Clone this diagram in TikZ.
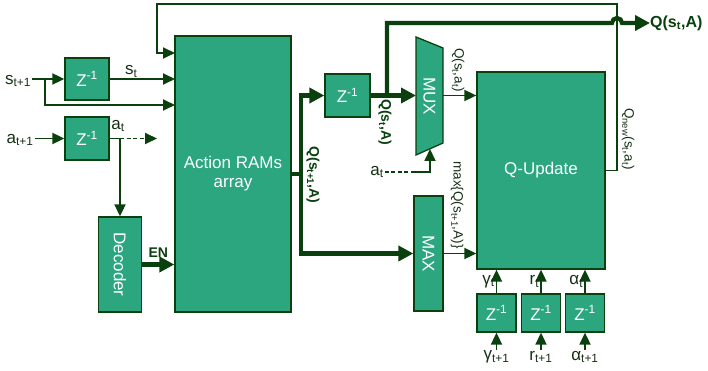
\documentclass[tikz,border=0pt]{standalone}
\usepackage{fontspec}
\setmainfont{Liberation Sans}
\usepackage{graphicx}
\usetikzlibrary{arrows.meta,positioning}
\definecolor{QGreen}{RGB}{43,166,126}
\definecolor{QDark}{RGB}{10,64,14}
\definecolor{QText}{RGB}{22,48,22}
\newcommand{\zinv}{Z\textsuperscript{-1}}
\newcommand{\sub}[1]{\textsubscript{#1}}

\begin{document}
\begin{tikzpicture}[x=1pt, y=-1pt,
    font=\fontsize{17}{19}\selectfont,
    blk/.style={draw=QDark, fill=QGreen, text=white, line width=1.3pt,
                inner sep=0pt, font=\fontsize{17}{19}\selectfont},
    dly/.style={blk, minimum width=44pt, minimum height=42pt},
    sdly/.style={blk, minimum width=39pt, minimum height=38pt},
    arr/.style={-{Triangle[length=12pt,width=11pt]}, line width=1.8pt, QDark},
    bus/.style={-{Triangle[length=15pt,width=15pt]}, line width=4.2pt, QDark},
    wire/.style={line width=1.8pt, QDark},
    lbl/.style={text=QText, inner sep=1pt},
    tag/.style={font=\fontsize{13.5}{15}\selectfont, text=QText, rotate=-90, inner sep=0pt},
    btag/.style={font=\fontsize{14}{16}\selectfont\bfseries, text=QDark, inner sep=0pt}
  ]
  \useasboundingbox (0,0) rectangle (708,371);

  % blocks
  \node[blk, minimum width=116pt, minimum height=276pt, align=center] (ram) at (233,174)
       {Action RAMs\\array};
  \node[dly] (zs) at (87,79) {\zinv};
  \node[dly, minimum height=43pt] (za) at (87,138.5) {\zinv};
  \node[blk, minimum width=43pt, minimum height=95pt] (dec) at (120,264.5) {\rotatebox{-90}{Decoder}};
  \node[dly, minimum width=45pt, minimum height=43pt] (zq) at (347.5,95.5) {\zinv};
  \node[blk, minimum width=29pt, minimum height=115pt] (maxu) at (428.5,253.5) {\rotatebox{-90}{MAX}};
  \node[blk, minimum width=128pt, minimum height=197pt] (qup) at (541,170.5) {Q-Update};
  \node[sdly] (zg) at (496.5,313) {\zinv};
  \node[sdly] (zr) at (541,313) {\zinv};
  \node[sdly] (zal) at (585,313) {\zinv};

  % multiplexer
  \draw[blk] (416,37) -- (443,48) -- (443,143) -- (416,155) -- cycle;
  \node[rotate=-90, text=white, font=\fontsize{17}{19}\selectfont] (mux) at (429.5,96) {MUX};
  \coordinate (muxin) at (416,95.5);
  \coordinate (muxout) at (443,95.5);
  \coordinate (muxsel) at (430,149);

  % ports on the RAM array
  \coordinate (ramA) at (175,53);
  \coordinate (ramB) at (175,79);
  \coordinate (ramC) at (175,105);

  % state input
  \node[lbl] (sin) at (18,81) {s\sub{t+1}};
  \coordinate (sfork) at (45,79);
  \draw[arr] (sin.east |- zs.west) -- (zs.west);
  \draw[arr] (sfork) |- (ramC);
  \draw[arr] (zs.east) -- node[lbl, above, pos=0.33] {s\sub{t}} (ramB);

  % action input
  \node[lbl] (ain) at (20,140) {a\sub{t+1}};
  \coordinate (afork) at (120,138.5);
  \coordinate (aout) at (157,138.5);
  \draw[arr] (ain.east |- za.west) -- (za.west);
  \draw[wire] (za.east) -- (afork);
  \node[lbl] at (118,126) {a\sub{t}};
  \draw[arr, dash pattern=on 4pt off 2.5pt] (afork) -- (aout);
  \draw[arr] (afork) -- (dec.north);
  \draw[bus] (dec.east) -- node[btag, above=5pt] {EN} (dec.east -| ram.west);

  % feedback of the new value
  \coordinate (fbR) at (617,4);
  \coordinate (fbL) at (157,4);
  \draw[arr] (qup.east) -| (fbR) -- (fbL) |- (ramA);
  \node[tag] at (628,139) {Q\sub{new}(s\sub{t},a\sub{t})};

  % RAM outputs
  \coordinate (qfork) at (301,174);
  \draw[wire, line width=4.2pt] (ram.east) -- (qfork);
  \draw[bus] (qfork) |- (zq.west);
  \draw[bus] (qfork) |- (maxu.west);
  \node[btag, rotate=-90] at (313,175) {Q(s\sub{t+1},A)};

  % delayed row to MUX and out
  \coordinate (qtap) at (387,95.5);
  \coordinate (hop) at (612,23);
  \node[btag, font=\fontsize{16}{18}\selectfont\bfseries, anchor=west] (qout) at (650,23) {Q(s\sub{t},A)};
  \draw[bus] (zq.east) -- (muxin);
  \draw[bus] (qtap) |- (hop) arc[start angle=180, end angle=0, radius=5pt] -- (qout.west);
  \node[btag, rotate=-90] at (385,122) {Q(s\sub{t},A)};

  % select of the MUX
  \node[lbl] (asel) at (377,172) {a\sub{t}};
  \coordinate (amid) at (413,172);
  \draw[wire, dash pattern=on 4pt off 2.5pt] (asel.east) -- (amid);
  \draw[arr] (amid) -| (muxsel);

  % into the Q-Update
  \draw[arr] (muxout) -- (muxout -| qup.west);
  \node[tag] at (458,70) {Q(s\sub{t},a\sub{t})};
  \draw[arr] (maxu.east) -- (maxu.east -| qup.west);
  \node[tag] at (457,205) {max\{Q(s\sub{t+1},A)\}};

  % parameters
  \draw[arr] (zg.north) -- node[lbl, left] {γ\sub{t}} (zg.north |- qup.south);
  \draw[arr] (zr.north) -- node[lbl, left] {r\sub{t}} (zr.north |- qup.south);
  \draw[arr] (zal.north) -- node[lbl, left] {α\sub{t}} (zal.north |- qup.south);
  \node[lbl] (gin) at (496.5,357) {γ\sub{t+1}};
  \node[lbl] (rin) at (541,357) {r\sub{t+1}};
  \node[lbl] (alin) at (585,357) {α\sub{t+1}};
  \draw[arr] (gin.north) -- (zg.south);
  \draw[arr] (rin.north) -- (zr.south);
  \draw[arr] (alin.north) -- (zal.south);
\end{tikzpicture}
\end{document}
